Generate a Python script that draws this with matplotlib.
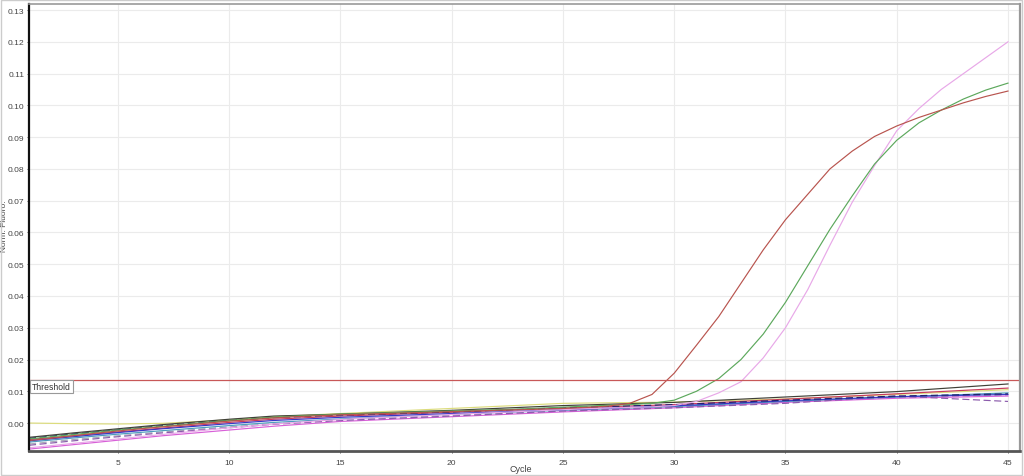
import numpy as np
import matplotlib
matplotlib.use("Agg")
import matplotlib.pyplot as plt
import matplotlib.ticker as mtick
from matplotlib.transforms import blended_transform_factory

plt.rcParams["font.family"] = ["Liberation Sans", "DejaVu Sans"]

# amplified samples, one value per cycle (1..45)
CYCLES = list(range(1, 46))

AMP_RED = [
    -0.0055, -0.0048, -0.0040, -0.0032, -0.0025, -0.0018, -0.0012, -0.0006, 0.0000, 0.0006,
    0.0011, 0.0016, 0.0020, 0.0023, 0.0026, 0.0028, 0.0030, 0.0032, 0.0034, 0.0036,
    0.0038, 0.0040, 0.0042, 0.0044, 0.0046, 0.0049, 0.0053, 0.0062, 0.0090, 0.0157,
    0.0245, 0.0335, 0.0440, 0.0545, 0.0640, 0.0720, 0.0800, 0.0856, 0.0902, 0.0935,
    0.0962, 0.0985, 0.1008, 0.1028, 0.1045,
]
AMP_GREEN = [
    -0.0050, -0.0043, -0.0036, -0.0029, -0.0022, -0.0016, -0.0010, -0.0004, 0.0002, 0.0008,
    0.0013, 0.0018, 0.0022, 0.0025, 0.0028, 0.0030, 0.0032, 0.0034, 0.0036, 0.0038,
    0.0040, 0.0042, 0.0044, 0.0047, 0.0050, 0.0053, 0.0056, 0.0058, 0.0062, 0.0072,
    0.0100, 0.0140, 0.0200, 0.0280, 0.0380, 0.0495, 0.0610, 0.0715, 0.0815, 0.0890,
    0.0945, 0.0985, 0.1020, 0.1048, 0.1070,
]
AMP_PINK = [
    -0.0078, -0.0071, -0.0064, -0.0057, -0.0050, -0.0043, -0.0036, -0.0029, -0.0022, -0.0015,
    -0.0009, -0.0003, 0.0002, 0.0007, 0.0011, 0.0015, 0.0018, 0.0021, 0.0024, 0.0027,
    0.0030, 0.0033, 0.0036, 0.0039, 0.0042, 0.0045, 0.0047, 0.0049, 0.0051, 0.0055,
    0.0068, 0.0095, 0.0130, 0.0205, 0.0300, 0.0420, 0.0560, 0.0695, 0.0810, 0.0920,
    0.0990, 0.1050, 0.1100, 0.1150, 0.1200,
]

# flat (non-amplified) samples, read at these cycles
BASE_CYCLES = [1, 3, 5, 7, 10, 12, 15, 20, 25, 30, 35, 40, 45]
BASE_YELLOW = [0.0000, -0.0002, -0.0003, -0.0001, 0.0010, 0.0020, 0.0030, 0.0046, 0.0062, 0.0066, 0.0076, 0.0090, 0.0105]
BASE_BLACK = [-0.0045, -0.0031, -0.0018, -0.0005, 0.0012, 0.0022, 0.0028, 0.0040, 0.0055, 0.0065, 0.0082, 0.0099, 0.0123]
BASE_NAVY = [-0.0048, -0.0034, -0.0021, -0.0008, 0.0008, 0.0017, 0.0025, 0.0035, 0.0048, 0.0058, 0.0072, 0.0085, 0.0092]
BASE_CRIMSON = [-0.0052, -0.0040, -0.0028, -0.0016, 0.0002, 0.0012, 0.0022, 0.0034, 0.0047, 0.0058, 0.0075, 0.0092, 0.0110]
BASE_TEAL = [-0.0060, -0.0047, -0.0035, -0.0024, -0.0008, 0.0002, 0.0013, 0.0028, 0.0040, 0.0052, 0.0068, 0.0082, 0.0095]
BASE_GRAY = [-0.0066, -0.0052, -0.0040, -0.0028, -0.0012, -0.0002, 0.0010, 0.0025, 0.0038, 0.0050, 0.0066, 0.0080, 0.0088]
BASE_MAGENTA = [-0.0082, -0.0068, -0.0054, -0.0040, -0.0022, -0.0010, 0.0005, 0.0020, 0.0035, 0.0048, 0.0065, 0.0078, 0.0085]
BASE_PURPLE = [-0.0070, -0.0056, -0.0043, -0.0031, -0.0015, -0.0004, 0.0008, 0.0022, 0.0038, 0.0048, 0.0062, 0.0085, 0.0068]
BASE_BLUE = [-0.0056, -0.0043, -0.0030, -0.0018, -0.0002, 0.0008, 0.0018, 0.0030, 0.0042, 0.0054, 0.0070, 0.0083, 0.0090]

THRESHOLD = 0.0135
X_TICKS = [5, 10, 15, 20, 25, 30, 35, 40, 45]
Y_TICKS = [i / 100 for i in range(0, 14)]


def main() -> None:
    fig = plt.figure(figsize=(10.24, 4.77), dpi=100)
    ax = fig.add_axes([29 / 1024, 1 - 452 / 477, 991 / 1024, 447 / 477])

    ax.grid(True, color="#ebebeb", lw=0.8)
    ax.set_axisbelow(True)

    # flat curves: (values, colour, linestyle)
    base = [
        (BASE_YELLOW, "#dcdc7c", "-"),
        (BASE_GRAY, "#a8a8b8", (0, (6, 3))),
        (BASE_MAGENTA, "#d860d8", "-"),
        (BASE_TEAL, "#4c9cbc", "-"),
        (BASE_PURPLE, "#8c5cac", (0, (6, 3))),
        (BASE_CRIMSON, "#c83a5c", "-"),
        (BASE_BLUE, "#3838c8", "-"),
        (BASE_NAVY, "#22226c", (0, (6, 3))),
        (BASE_BLACK, "#404038", "-"),
    ]
    for vals, col, ls in base:
        ax.plot(BASE_CYCLES, vals, color=col, lw=0.85, ls=ls)

    ax.plot(CYCLES, AMP_PINK, color="#e8a8e8", lw=0.85)
    ax.plot(CYCLES, AMP_GREEN, color="#5ca85c", lw=0.85)
    ax.plot(CYCLES, AMP_RED, color="#b8544e", lw=0.85)

    ax.axhline(THRESHOLD, color="#c85858", lw=0.9)
    trans = blended_transform_factory(ax.transAxes, ax.transData)
    ax.text(
        0.003, THRESHOLD - 0.0005, "Threshold",
        transform=trans, fontsize=6.2, color="#333333", va="top", ha="left",
        bbox=dict(boxstyle="square,pad=0.25", fc="white", ec="#999999", lw=0.8),
    )

    ax.set_xlim(1, 45.54)
    ax.set_ylim(-0.0088, 0.1319)
    ax.set_xticks(X_TICKS)
    ax.set_yticks(Y_TICKS)
    ax.yaxis.set_major_formatter(mtick.FormatStrFormatter("%.2f"))
    ax.tick_params(labelsize=6.1, colors="#444444", length=1.5, width=0.6)
    ax.tick_params(axis="y", pad=2)
    ax.tick_params(axis="x", pad=4)

    ax.set_xlabel("Cycle", fontsize=6.5, color="#444444")
    ax.xaxis.set_label_coords(0.496, -0.030)
    ax.set_ylabel("Norm. Fluoro.", fontsize=6.0, color="#444444", va="center")
    ax.yaxis.set_label_coords(-0.0245, 0.505)

    ax.spines["left"].set_color("#111111")
    ax.spines["left"].set_linewidth(1.6)
    ax.spines["bottom"].set_color("#555555")
    ax.spines["bottom"].set_linewidth(2.0)
    ax.spines["top"].set_color("#999999")
    ax.spines["top"].set_linewidth(1.2)
    ax.spines["right"].set_color("#999999")
    ax.spines["right"].set_linewidth(1.6)

    fig.patches.append(plt.Rectangle(
        (0.001, 0.002), 0.997, 0.996, transform=fig.transFigure,
        fill=False, ec="#cccccc", lw=1.0,
    ))

    fig.savefig("out.png", dpi=100)
    plt.close(fig)


if __name__ == "__main__":
    main()
